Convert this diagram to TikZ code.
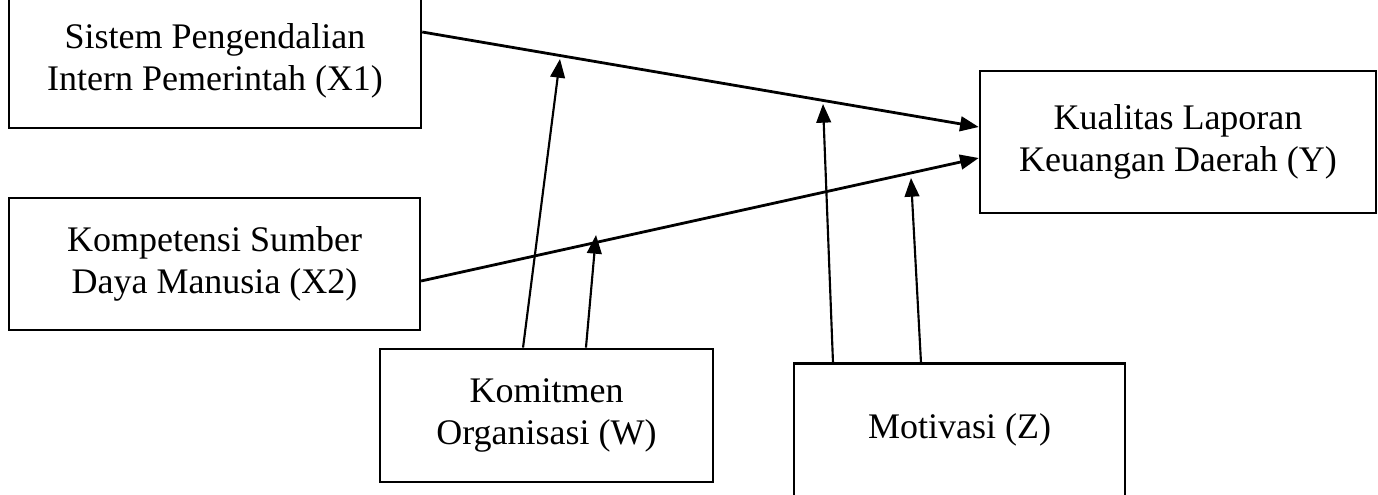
\documentclass[tikz,border=0pt]{standalone}
\usepackage{fontspec}
\setmainfont{Liberation Serif}
\usetikzlibrary{arrows.meta,positioning}

\tikzset{
  varbox/.style={draw, line width=1.9pt, align=center, inner sep=0pt},
  mainarrow/.style={line width=2.1pt, -{Triangle[length=14pt,width=11pt]}},
  modarrow/.style={line width=1.6pt, -{Triangle[length=14pt,width=11pt]}}
}

\begin{document}
\begin{tikzpicture}[x=0.75pt, y=-0.75pt, font=\fontsize{27}{32}\selectfont]
  \useasboundingbox (0,0) rectangle (1378,494);
  % variable boxes
  \node[varbox, minimum width=309pt, minimum height=100.5pt] (x1) at (215,61)
    {Sistem Pengendalian\\Intern Pemerintah (X1)};
  \node[varbox, minimum width=308pt, minimum height=99pt] (x2) at (214.5,264)
    {Kompetensi Sumber\\Daya Manusia (X2)};
  \node[varbox, minimum width=297pt, minimum height=106.5pt] (y) at (1178,142)
    {Kualitas Laporan\\Keuangan Daerah (Y)};
  \node[varbox, minimum width=250pt, minimum height=100pt] (w) at (546.5,415.5)
    {Komitmen\\Organisasi (W)};
  \node[varbox, minimum width=248pt, minimum height=100pt] (z) at (959.5,430)
    {Motivasi (Z)};
  % points where the moderators meet the paths
  \coordinate (wm1) at (560,59);
  \coordinate (wm2) at (596,235);
  \coordinate (zm1) at (823,104);
  \coordinate (zm2) at (911,178);
  % direct paths
  \draw[mainarrow] ([yshift=21.75pt]x1.east) -- ([yshift=11.25pt]y.west);
  \draw[mainarrow] ([yshift=-12.75pt]x2.east) -- ([yshift=-12pt]y.west);
  % moderating paths
  \draw[modarrow] ([xshift=-17.6pt]w.north) -- (wm1);
  \draw[modarrow] ([xshift=29.6pt]w.north) -- (wm2);
  \draw[modarrow] ([xshift=-94.9pt]z.north) -- (zm1);
  \draw[modarrow] ([xshift=-28.9pt]z.north) -- (zm2);
\end{tikzpicture}
\end{document}
